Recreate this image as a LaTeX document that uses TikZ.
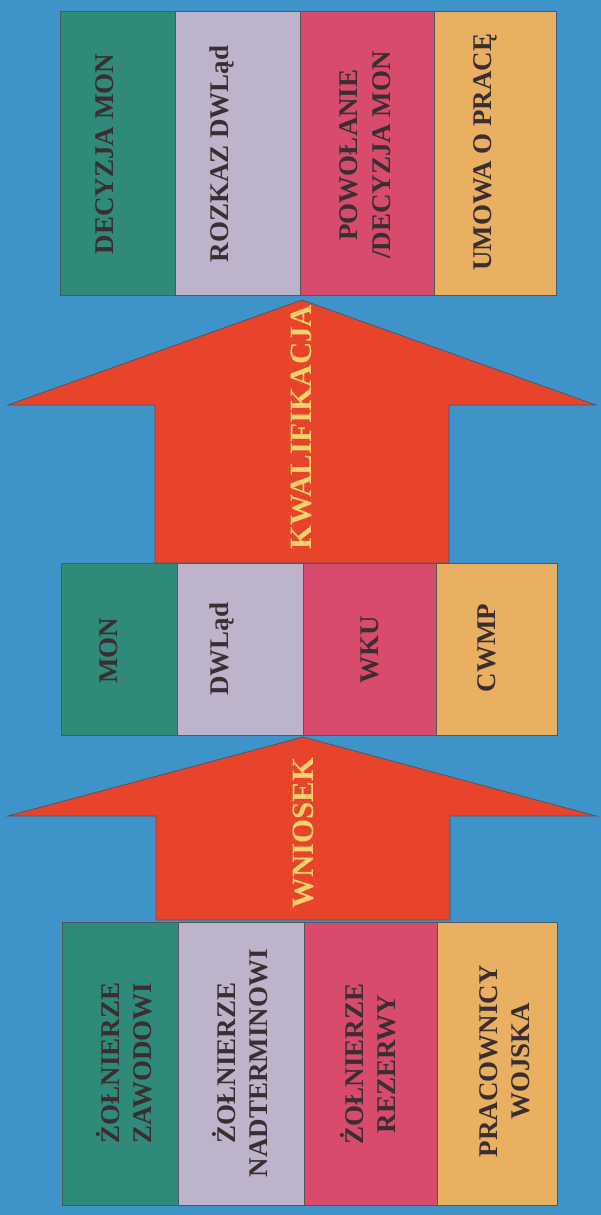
\documentclass[tikz,border=0pt]{standalone}
\usepackage{fontspec}
\setmainfont{Liberation Serif}
\definecolor{bg}{HTML}{3E93C9}
\definecolor{cgreen}{HTML}{2F8A7A}
\definecolor{clav}{HTML}{BDB4CC}
\definecolor{cpink}{HTML}{D84B6C}
\definecolor{corange}{HTML}{E9B062}
\definecolor{cred}{HTML}{E8432B}
\definecolor{cyel}{HTML}{F1D36C}
\definecolor{ctext}{HTML}{3A2E32}
\definecolor{cedge}{HTML}{4E5862}
\begin{document}
\begin{tikzpicture}[x=1pt,y=-1pt,
  box/.style={draw=cedge,line width=1pt},
  lbl/.style={rotate=90,text=ctext,font=\fontsize{27}{32.5}\selectfont\bfseries,align=center,inner sep=0pt},
  alb/.style={rotate=90,text=cyel,font=\fontsize{31}{36}\selectfont\bfseries,inner sep=0pt},
  arr/.style={fill=cred,draw=cedge,line width=0.8pt,line join=miter}]
\fill[bg] (0,0) rectangle (601,1215);
\useasboundingbox (0,0) rectangle (601,1215);

% ---------- bottom boxes ----------
\path[box,fill=cgreen]  (62,922) rectangle (178,1205);
\path[box,fill=clav]    (178,922) rectangle (304,1205);
\path[box,fill=cpink]   (304,922) rectangle (437,1205);
\path[box,fill=corange] (437,922) rectangle (557,1205);
\node[lbl] (b1) at (124,1063) {ŻOŁNIERZE\\ZAWODOWI};
\node[lbl] (b2) at (240,1063) {ŻOŁNIERZE\\NADTERMINOWI};
\node[lbl] (b3) at (368,1064) {ŻOŁNIERZE\\REZERWY};
\node[lbl] (b4) at (505,1061) {PRACOWNICY\\WOJSKA};

% ---------- arrow WNIOSEK ----------
\coordinate (w1) at (156,920);
\coordinate (w2) at (156,816);
\coordinate (w3) at (8,816);
\coordinate (w4) at (303,737);
\coordinate (w5) at (596,816);
\coordinate (w6) at (450,816);
\coordinate (w7) at (450,920);
\path[arr] (w1) -- (w2) -- (w3) -- (w4) -- (w5) -- (w6) -- (w7) -- cycle;
\node[alb] (wn) at (303,833) {WNIOSEK};

% ---------- middle boxes ----------
\path[box,fill=cgreen]  (61,563) rectangle (177,735);
\path[box,fill=clav]    (177,563) rectangle (303,735);
\path[box,fill=cpink]   (303,563) rectangle (436,735);
\path[box,fill=corange] (436,563) rectangle (557,735);
\node[lbl] (m1) at (109,651) {MON};
\node[lbl] (m2) at (222,649) {DWLąd};
\node[lbl] (m3) at (370,650) {WKU};
\node[lbl] (m4) at (487,648) {CWMP};

% ---------- arrow KWALIFIKACJA ----------
\coordinate (k1) at (155,563);
\coordinate (k2) at (155,405);
\coordinate (k3) at (8,405);
\coordinate (k4) at (302,300);
\coordinate (k5) at (596,405);
\coordinate (k6) at (449,405);
\coordinate (k7) at (449,563);
\path[arr] (k1) -- (k2) -- (k3) -- (k4) -- (k5) -- (k6) -- (k7) -- cycle;
\node[alb] (kw) at (301,427) {KWALIFIKACJA};

% ---------- top boxes ----------
\path[box,fill=cgreen]  (60,12) rectangle (175,295);
\path[box,fill=clav]    (175,12) rectangle (300,295);
\path[box,fill=cpink]   (300,12) rectangle (434,295);
\path[box,fill=corange] (434,12) rectangle (556,295);
\node[lbl] (t1) at (105,154) {DECYZJA MON};
\node[lbl] (t2) at (222,154) {ROZKAZ DWLąd};
\node[lbl] (t3) at (365,155) {POWOŁANIE\\/DECYZJA MON};
\node[lbl] (t4) at (485,152) {UMOWA O PRACĘ};
\end{tikzpicture}
\end{document}
